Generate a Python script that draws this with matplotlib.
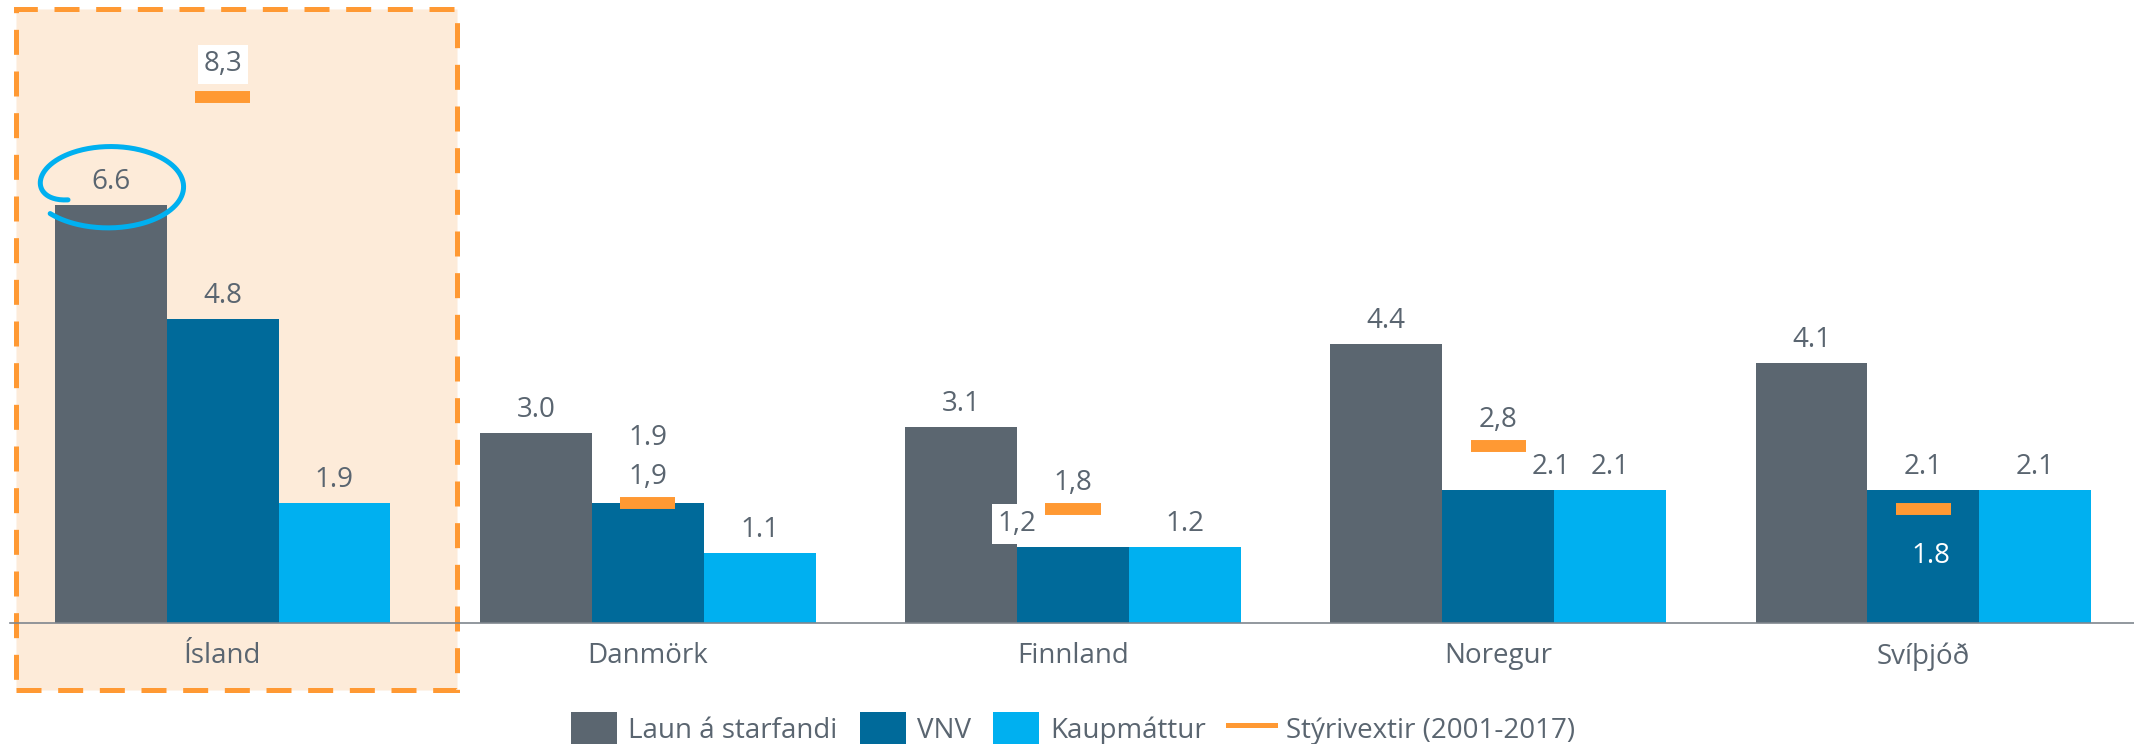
import numpy as np
import matplotlib.pyplot as plt
from matplotlib.lines import Line2D
from matplotlib.patches import Rectangle

plt.rcParams['font.family'] = ['Open Sans', 'DejaVu Sans']
plt.rcParams['lines.scale_dashes'] = False

# data
countries = ['Ísland', 'Danmörk', 'Finnland', 'Noregur', 'Svíþjóð']
laun = [6.6, 3.0, 3.1, 4.4, 4.1]
vnv = [4.8, 1.9, 1.2, 2.1, 2.1]
kaupmattur = [1.9, 1.1, 1.2, 2.1, 2.1]
styrivextir = [8.3, 1.9, 1.8, 2.8, 1.8]
series_names = ['Laun á starfandi', 'VNV', 'Kaupmáttur']
rate_name = 'Stýrivextir (2001-2017)'

colors = ['#5B6670', '#006A9A', '#00B0F0']
orange = '#FF9933'
txt = '#5A6570'
fs = 20

W, H = 2134, 744
fig = plt.figure(figsize=(W / 100, H / 100), dpi=100)
ax = fig.add_axes([10 / W, 121 / H, 2126 / W, 608 / H])
ax.set_facecolor('none')

# highlight box around Ísland (figure pixels)
box = Rectangle((16 / W, 1 - 690 / H), 441 / W, 681 / H, transform=fig.transFigure,
                facecolor='#FDEBD9', edgecolor=orange, lw=3.6,
                linestyle=(0, (18, 12)), zorder=-1)
fig.add_artist(box)

x = np.arange(len(countries))
w = 0.263
values = [laun, vnv, kaupmattur]
bars = []
for i, vals in enumerate(values):
    b = ax.bar(x + (i - 1) * w, vals, width=w, color=colors[i], label=series_names[i], zorder=2)
    bars.append(b)

# policy rate markers
ax.hlines(styrivextir, x - 0.065, x + 0.065, colors=orange, lw=8.6, zorder=3)

# value labels, a few are moved by hand like in the original
shift = {(1, 1): (0, 65), (1, 2): (-56, 23), (1, 3): (53, 23)}
for i, vals in enumerate(values):
    for j, v in enumerate(vals):
        dx, dy = shift.get((i, j), (0, 23))
        s = f'{v:.1f}'
        kw = {}
        if (i, j) == (1, 2):
            s = s.replace('.', ',')
            kw['bbox'] = dict(boxstyle='square,pad=0.2', fc='white', ec='none')
        ax.annotate(s, (x[j] + (i - 1) * w, v), xytext=(dx, dy), textcoords='offset pixels',
                    ha='center', va='center', fontsize=fs, color=txt, zorder=4, **kw)

for j, r in enumerate(styrivextir):
    if j == 4:
        ax.annotate(f'{r:.1f}', (x[j], r), xytext=(8, -47), textcoords='offset pixels',
                    ha='center', va='center', fontsize=fs, color='white', zorder=4)
        continue
    kw = {}
    dy = 26
    if j == 0:
        dy = 33
        kw['bbox'] = dict(boxstyle='square,pad=0.2', fc='white', ec='none')
    ax.annotate(f'{r:.1f}'.replace('.', ','), (x[j], r), xytext=(0, dy), textcoords='offset pixels',
                ha='center', va='center', fontsize=fs, color=txt, zorder=4, **kw)

ax.set_xlim(-0.5, len(countries) - 0.5)
ax.set_ylim(0, 9.6)
ax.set_yticks([])
ax.set_xticks(x)
ax.set_xticklabels(countries, fontsize=fs, color=txt)
ax.tick_params(axis='x', length=0, pad=14)
for sp in ['top', 'right', 'left']:
    ax.spines[sp].set_visible(False)
ax.spines['bottom'].set_color('#7F868E')
ax.spines['bottom'].set_linewidth(1.2)

# hand drawn circle around the Ísland wage value
t = np.radians(np.linspace(211, -140, 300))
prog = (np.radians(211) - t) / np.radians(351)
sc = 1 - 0.31 * np.exp(-prog * 351 / 12) + 0.1 * prog ** 2
ex = 110 + 71 * np.cos(t) * sc
ey = 186 - 39 * np.sin(t) * sc
fig.add_artist(Line2D(ex / W, 1 - ey / H, transform=fig.transFigure, color='#00B0F0',
                      lw=3.6, solid_capstyle='round', zorder=5))

handles = bars + [Line2D([], [], color=orange, lw=3.6)]
labels = series_names + [rate_name]
fig.legend(handles, labels, loc='center', bbox_to_anchor=(1073 / W, 15 / H), ncol=4,
           frameon=False, fontsize=fs, labelcolor=txt, handlelength=1.66, handleheight=1.55,
           handletextpad=0.4, columnspacing=0.8, borderpad=0)

fig.savefig('out.png', dpi=100)
